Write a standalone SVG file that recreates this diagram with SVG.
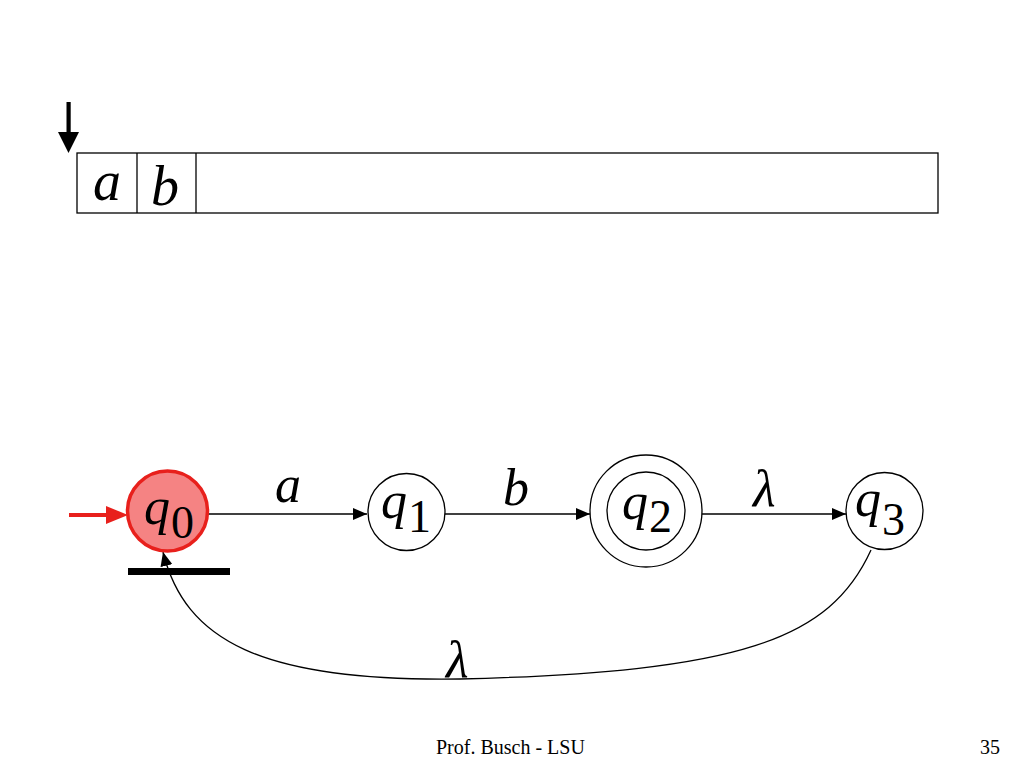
<svg xmlns="http://www.w3.org/2000/svg" width="1024" height="768" viewBox="0 0 1024 768">
<defs>
<style>
.st{fill:#fff;stroke:#000;stroke-width:1.3}
.it{font-family:"Liberation Serif","Times New Roman",serif;font-style:italic;fill:#000}
.sub{font-family:"Liberation Serif","Times New Roman",serif;fill:#000}
.edge{fill:none;stroke:#000;stroke-width:1.3}
.foot{font-family:"Liberation Serif","Times New Roman",serif;font-size:20px;fill:#000}
</style>
<marker id="ah" viewBox="0 0 14 12" refX="14" refY="6" markerWidth="14" markerHeight="12" markerUnits="userSpaceOnUse" orient="auto">
<path d="M0,0 L14,6 L0,12 Z" fill="#000"/>
</marker>
</defs>
<rect width="1024" height="768" fill="#fff"/>

<g id="tape">
<rect x="77" y="153" width="861" height="60" fill="none" stroke="#000" stroke-width="1.3"/>
<line x1="137" y1="153" x2="137" y2="213" stroke="#000" stroke-width="1.3"/>
<line x1="196" y1="153" x2="196" y2="213" stroke="#000" stroke-width="1.3"/>
<text class="it" x="93" y="200" font-size="56">a</text>
<text class="it" x="151" y="205" font-size="56">b</text>
</g>

<g id="head">
<rect x="66.5" y="102" width="4.2" height="32" fill="#000"/>
<path d="M58,132 L79,132 L68.5,153 Z" fill="#000"/>
</g>

<g id="start">
<line x1="69" y1="515" x2="110" y2="515" stroke="#e8201c" stroke-width="3.8"/>
<path d="M106,506 L128,515 L106,524 Z" fill="#e8201c"/>
</g>

<g id="connectors">
<line class="edge" x1="208" y1="514" x2="367" y2="514" marker-end="url(#ah)"/>
<line class="edge" x1="445" y1="514" x2="590" y2="514" marker-end="url(#ah)"/>
<line class="edge" x1="702" y1="514" x2="846" y2="514" marker-end="url(#ah)"/>
<path class="edge" d="M871,550 C830,640 740,672 460,679 C260,682 185,640 163,552" marker-end="url(#ah)"/>
<text class="it" x="275" y="502" font-size="52">a</text>
<text class="it" x="503" y="505" font-size="52">b</text>
<text class="it" x="753" y="506" font-size="52">λ</text>
<text class="it" x="446" y="677" font-size="52">λ</text>
</g>

<g id="q0">
<circle cx="167.5" cy="511" r="40" fill="#f58383" stroke="#e8201c" stroke-width="3.5"/>
<text class="it" x="144" y="524" font-size="52">q</text>
<text class="sub" x="171" y="538" font-size="46">0</text>
</g>
<rect x="128" y="568" width="102" height="7" fill="#000"/>

<g id="q1">
<circle class="st" cx="406.5" cy="512" r="38.5"/>
<text class="it" x="381" y="518" font-size="52">q</text>
<text class="sub" x="408" y="532" font-size="46">1</text>
</g>

<g id="q2">
<circle class="st" cx="646" cy="511" r="56"/>
<circle class="st" cx="646" cy="511" r="39"/>
<text class="it" x="622" y="519" font-size="52">q</text>
<text class="sub" x="649" y="532" font-size="46">2</text>
</g>

<g id="q3">
<circle class="st" cx="884.5" cy="511" r="38.5"/>
<text class="it" x="855" y="516" font-size="52">q</text>
<text class="sub" x="882" y="535" font-size="46">3</text>
</g>

<g id="footer">
<text class="foot" x="436" y="754">Prof. Busch - LSU</text>
<text class="foot" x="1000" y="754" text-anchor="end">35</text>
</g>
</svg>
